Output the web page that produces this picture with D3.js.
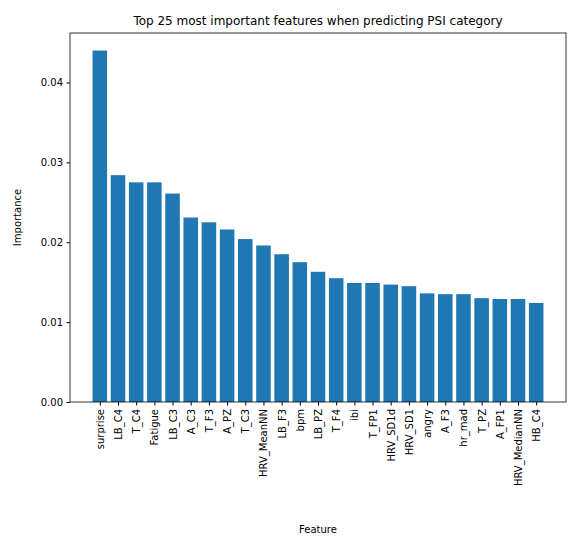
<!DOCTYPE html>
<head>
<meta charset="utf-8">
<script src="https://d3js.org/d3.v7.min.js"></script>
<style>body{margin:0;background:#fff}text{font-family:"DejaVu Sans",sans-serif}</style>
</head>
<body>
<script>
const features = ["surprise","LB_C4","T_C4","Fatigue","LB_C3","A_C3","T_F3","A_PZ","T_C3","HRV_MeanNN",
  "LB_F3","bpm","LB_PZ","T_F4","ibi","T_FP1","HRV_SD1d","HRV_SD1","angry","A_F3","hr_mad","T_PZ","A_FP1","HRV_MedianNN","HB_C4"]
const importance = [0.0440,0.0284,0.0275,0.0275,0.0261,0.0231,0.0225,0.0216,0.0204,0.0196,
  0.0185,0.0175,0.0163,0.0155,0.0149,0.0149,0.0147,0.0145,0.0136,0.0135,0.0135,0.0130,0.0129,0.0129,0.0124]
const yTicks = [0, 0.01, 0.02, 0.03, 0.04]

let width = 583, height = 548
let L = 70, R = 566, T = 33, B = 402
let svg = d3.select("body").append("svg").attr("width", width).attr("height", height)

let n = features.length
let pad = 0.05 * (n - 1 + 0.8)
let x = d3.scaleLinear().domain([-0.4 - pad, n - 1 + 0.4 + pad]).range([L, R])
let y = d3.scaleLinear().domain([0, 0.0462]).range([B, T])

svg.selectAll("rect.bar").data(importance).join("rect")
  .attr("x", (d, i) => x(i - 0.4)).attr("width", x(0.8) - x(0))
  .attr("y", d => y(d)).attr("height", d => B - y(d))
  .attr("fill", "#1f77b4")

// axes
let ya = svg.append("g").attr("transform", `translate(${L},0)`)
  .call(d3.axisLeft(y).tickValues(yTicks).tickFormat(d3.format(".2f")).tickSizeOuter(0).tickSize(3.5).tickPadding(3.5))
let xa = svg.append("g").attr("transform", `translate(0,${B})`)
  .call(d3.axisBottom(x).tickValues(d3.range(n)).tickFormat(i => features[i]).tickSizeOuter(0).tickSize(3.5))
xa.selectAll("text").attr("transform", "rotate(-90)").attr("text-anchor", "end")
  .attr("x", -7).attr("y", 0).attr("dy", "0.35em")
svg.selectAll(".domain").remove()
svg.selectAll(".tick text").attr("font-size", 10).attr("fill", "#000").style("font-family", "DejaVu Sans")
svg.selectAll(".tick line").attr("stroke", "#000")

svg.append("rect").attr("x", L).attr("y", T).attr("width", R - L).attr("height", B - T)
  .attr("fill", "none").attr("stroke", "#000").attr("stroke-width", 0.8)

svg.append("text").attr("x", (L + R) / 2).attr("y", T - 8).attr("text-anchor", "middle")
  .attr("font-size", 12).text("Top 25 most important features when predicting PSI category")
svg.append("text").attr("x", (L + R) / 2).attr("y", 533).attr("text-anchor", "middle")
  .attr("font-size", 10).text("Feature")
svg.append("text").attr("transform", `translate(21,${(T + B) / 2}) rotate(-90)`).attr("text-anchor", "middle")
  .attr("font-size", 10).text("Importance")
</script>
</body>
